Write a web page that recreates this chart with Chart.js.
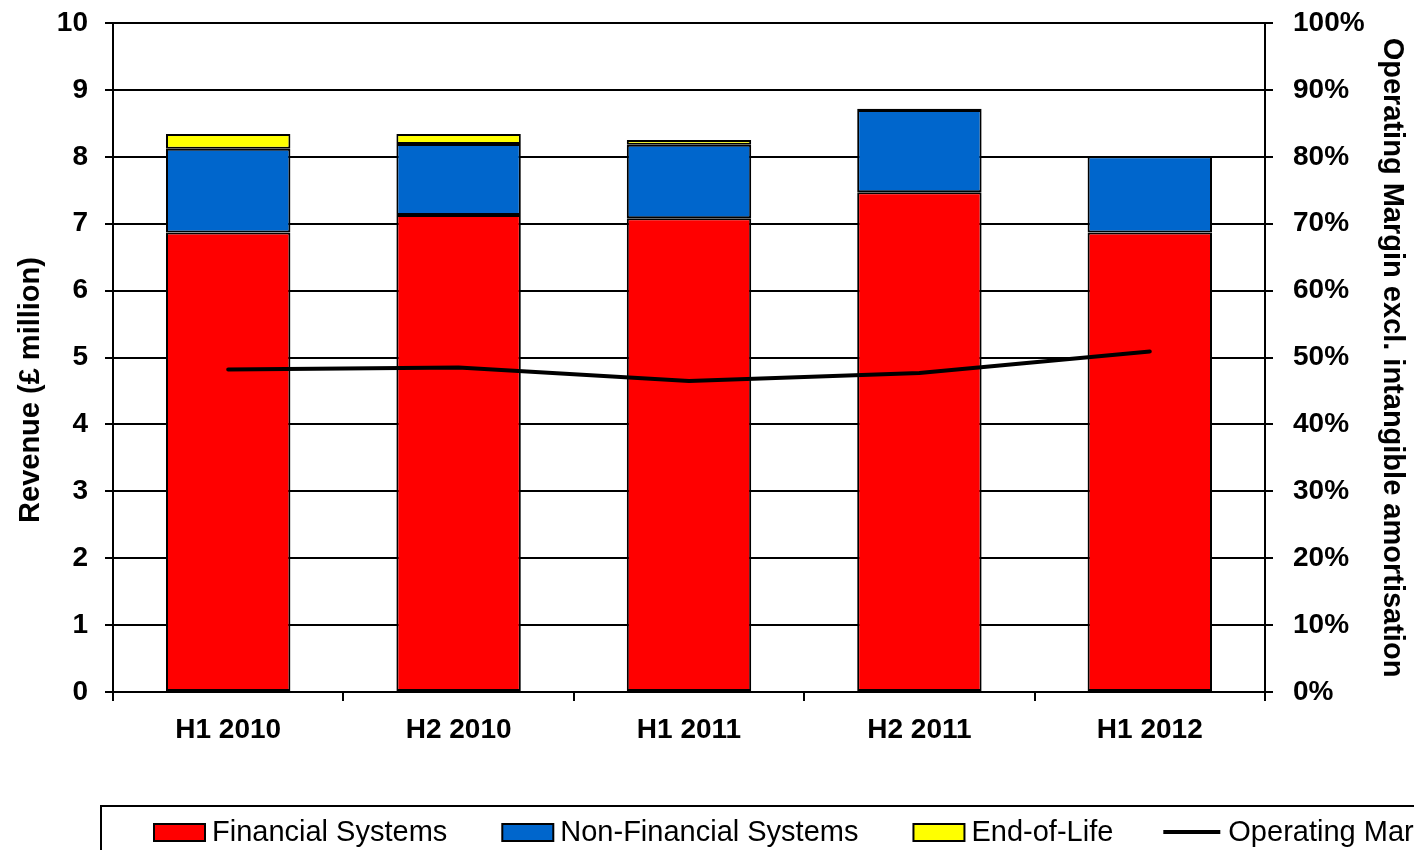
<!DOCTYPE html>
<html>
<head>
<meta charset="utf-8">
<script src="https://cdn.jsdelivr.net/npm/chart.js@4/dist/chart.umd.min.js"></script>
<style>
  html, body { margin: 0; padding: 0; background: #fff; }
  #wrap { width: 1414px; height: 850px; position: relative; overflow: hidden; }
</style>
</head>
<body>
<div id="wrap"><canvas id="c" width="1414" height="850"></canvas></div>
<script>
// Half-year periods
const categories = ['H1 2010', 'H2 2010', 'H1 2011', 'H2 2011', 'H1 2012'];

// Revenue by segment (£ million)
const financialSystems = [6.87, 7.13, 7.08, 7.47, 6.87];
const nonFinancialSystems = [1.25, 1.06, 1.10, 1.23, 1.14];
const endOfLife = [0.22, 0.15, 0.07, 0.02, 0];

// Operating margin excl. intangible amortisation (%)
const operatingMargin = [48.2, 48.5, 46.5, 47.7, 50.9];

// Axis tick values
const revenueTicks = [0, 1, 2, 3, 4, 5, 6, 7, 8, 9, 10];
const marginTicks = [0, 10, 20, 30, 40, 50, 60, 70, 80, 90, 100];

const seriesNames = ['Financial Systems', 'Non-Financial Systems', 'End-of-Life',
  'Operating Margin excl. intangible amortisation'];
const leftTitle = 'Revenue (£ million)';
const rightTitle = 'Operating Margin excl. intangible amortisation';

const FONT = '"Liberation Sans", Arial, sans-serif';

// Boxed legend along the bottom, running past the right edge
const bottomLegend = {
  id: 'bottomLegend',
  afterDraw(chart) {
    const ctx = chart.ctx;
    ctx.save();
    ctx.lineWidth = 2;
    ctx.strokeStyle = '#000';
    ctx.strokeRect(101, 806, 1600, 200);
    ctx.font = '29px ' + FONT;
    ctx.textBaseline = 'middle';
    ctx.textAlign = 'left';
    let x = 154;
    const y = 832;
    chart.data.datasets.forEach((ds) => {
      if (ds.type === 'line') {
        ctx.strokeStyle = '#000';
        ctx.lineWidth = 4;
        ctx.beginPath();
        ctx.moveTo(x - 5, y);
        ctx.lineTo(x + 52, y);
        ctx.stroke();
        x += 60;
      } else {
        ctx.fillStyle = ds.backgroundColor;
        ctx.fillRect(x, y - 8, 51, 17);
        ctx.strokeStyle = '#000';
        ctx.lineWidth = 2;
        ctx.strokeRect(x, y - 8, 51, 17);
        x += 58;
      }
      ctx.fillStyle = '#000';
      ctx.fillText(ds.label, x, y + 1);
      x += ctx.measureText(ds.label).width + 55;
    });
    ctx.restore();
  }
};

// Left axis title, placed along the lower part of the axis
const leftAxisTitle = {
  id: 'leftAxisTitle',
  afterDraw(chart) {
    const ctx = chart.ctx;
    ctx.save();
    ctx.translate(31, 390);
    ctx.rotate(-Math.PI / 2);
    ctx.font = 'bold 29px ' + FONT;
    ctx.fillStyle = '#000';
    ctx.textAlign = 'center';
    ctx.textBaseline = 'middle';
    ctx.fillText(leftTitle, 0, 0);
    ctx.restore();
  }
};

const barCommon = {
  type: 'bar',
  yAxisID: 'y',
  borderColor: '#000',
  borderWidth: 2,
  borderSkipped: false,
  categoryPercentage: 1.0,
  barPercentage: 0.54,
  order: 2
};

// Keep the plot area fixed: no extra room for half tick labels
function noVerticalPadding(scale) {
  scale.paddingTop = 0;
  scale.paddingBottom = 0;
}

new Chart(document.getElementById('c'), {
  data: {
    labels: categories,
    datasets: [
      Object.assign({}, barCommon, { label: seriesNames[0], data: financialSystems, backgroundColor: '#FF0000' }),
      Object.assign({}, barCommon, { label: seriesNames[1], data: nonFinancialSystems, backgroundColor: '#0066CC' }),
      Object.assign({}, barCommon, { label: seriesNames[2], data: endOfLife, backgroundColor: '#FFFF00' }),
      {
        type: 'line',
        label: seriesNames[3],
        data: operatingMargin,
        yAxisID: 'y1',
        borderColor: '#000',
        backgroundColor: '#000',
        borderWidth: 4,
        borderCapStyle: 'round',
        pointRadius: 0,
        tension: 0,
        order: 1
      }
    ]
  },
  options: {
    responsive: false,
    animation: false,
    events: [],
    layout: { padding: { top: 23, left: 0, right: 0, bottom: 0 } },
    plugins: {
      legend: { display: false },
      tooltip: { enabled: false },
      title: { display: false }
    },
    scales: {
      x: {
        stacked: true,
        offset: true,
        grid: {
          offset: true,
          drawOnChartArea: false,
          drawTicks: true,
          tickLength: 9,
          color: '#000',
          lineWidth: 2
        },
        border: { display: true, color: '#000', width: 2 },
        ticks: {
          color: '#000',
          font: { family: FONT, size: 28, weight: 'bold' },
          padding: 12,
          maxRotation: 0
        },
        afterFit(scale) { scale.height = 158; }
      },
      y: {
        stacked: true,
        position: 'left',
        min: 0,
        max: 10,
        afterBuildTicks(scale) { scale.ticks = revenueTicks.map(v => ({ value: v })); },
        grid: {
          color: '#000',
          lineWidth: 2,
          drawTicks: true,
          tickLength: 8,
          tickColor: '#000'
        },
        border: { display: true, color: '#000', width: 2 },
        ticks: {
          color: '#000',
          font: { family: FONT, size: 28, weight: 'bold' },
          padding: 17
        },
        afterFit(scale) { scale.width = 113; noVerticalPadding(scale); }
      },
      y1: {
        position: 'right',
        min: 0,
        max: 100,
        afterBuildTicks(scale) { scale.ticks = marginTicks.map(v => ({ value: v })); },
        grid: {
          drawOnChartArea: false,
          drawTicks: true,
          tickLength: 8,
          color: '#000',
          lineWidth: 2
        },
        border: { display: true, color: '#000', width: 2 },
        ticks: {
          color: '#000',
          font: { family: FONT, size: 28, weight: 'bold' },
          padding: 20,
          callback: v => v + '%'
        },
        title: {
          display: true,
          text: rightTitle,
          color: '#000',
          font: { family: FONT, size: 29, weight: 'bold' },
          padding: { top: 5, bottom: 0 }
        },
        afterFit(scale) { scale.width = 149; noVerticalPadding(scale); }
      }
    }
  },
  plugins: [bottomLegend, leftAxisTitle]
});
</script>
</body>
</html>
